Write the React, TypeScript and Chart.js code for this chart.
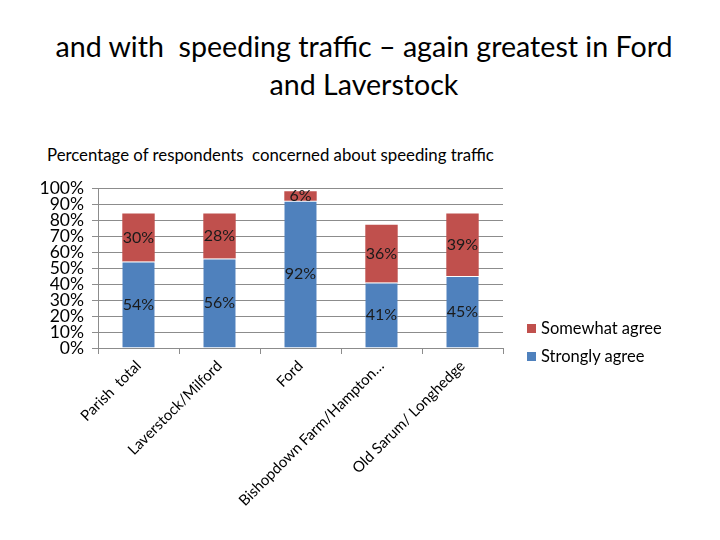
import React, { useEffect, useRef } from "react";
import { Chart, registerables } from "chart.js";

Chart.register(...registerables);

const categories = [
  "Parish  total",
  "Laverstock/Milford",
  "Ford",
  "Bishopdown Farm/Hampton…",
  "Old Sarum/ Longhedge",
];
const stronglyAgree = [54, 56, 92, 41, 45];
const somewhatAgree = [30, 28, 6, 36, 39];
const yTicks = [0, 10, 20, 30, 40, 50, 60, 70, 80, 90, 100];

const BLUE = "#4F81BD";
const RED = "#C0504D";
const FONT = "Lato, 'Open Sans', sans-serif";

// Writes each segment's percentage in the middle of its bar segment.
const segmentLabels = {
  id: "segmentLabels",
  afterDatasetsDraw(chart: any) {
    const ctx = chart.ctx;
    ctx.save();
    ctx.font = `16px ${FONT}`;
    ctx.fillStyle = "#1a1a1a";
    ctx.textAlign = "center";
    ctx.textBaseline = "middle";
    chart.data.datasets.forEach((ds: any, di: number) => {
      const meta = chart.getDatasetMeta(di);
      meta.data.forEach((bar: any, i: number) => {
        const { x, y, base } = bar.getProps(["x", "y", "base"], true);
        ctx.fillText(`${ds.data[i]}%`, x, (y + base) / 2);
      });
    });
    ctx.restore();
  },
};

export default function App() {
  const ref = useRef<HTMLCanvasElement | null>(null);

  useEffect(() => {
    if (!ref.current) return;
    const chart = new Chart(ref.current, {
      type: "bar",
      data: {
        labels: categories,
        datasets: [
          {
            label: "Strongly agree",
            data: stronglyAgree,
            backgroundColor: BLUE,
            borderColor: "#ffffff",
            borderWidth: { top: 1, left: 0, right: 0, bottom: 0 },
            borderSkipped: false,
            barPercentage: 0.4,
            categoryPercentage: 1,
          },
          {
            label: "Somewhat agree",
            data: somewhatAgree,
            backgroundColor: RED,
            borderWidth: 0,
            barPercentage: 0.4,
            categoryPercentage: 1,
          },
        ],
      },
      options: {
        responsive: false,
        animation: false,
        layout: { padding: { left: 30, right: 217, top: 188, bottom: 20 } },
        plugins: {
          legend: { display: false },
          tooltip: { enabled: false },
          title: { display: false },
        },
        scales: {
          x: {
            stacked: true,
            afterFit: (s: any) => {
              s.height = 172;
            },
            grid: {
              offset: true,
              drawOnChartArea: false,
              drawTicks: true,
              tickLength: 6,
              color: "#8c8c8c",
            },
            border: { color: "#8c8c8c" },
            ticks: {
              minRotation: 45,
              maxRotation: 45,
              autoSkip: false,
              color: "#000",
              font: { family: FONT, size: 15 },
              padding: 3,
            },
          },
          y: {
            stacked: true,
            min: 0,
            max: 100,
            afterFit: (s: any) => {
              s.width = 68;
            },
            afterBuildTicks: (s: any) => {
              s.ticks = yTicks.map((v) => ({ value: v }));
            },
            grid: { color: "#8c8c8c", tickLength: 6 },
            border: { color: "#8c8c8c" },
            ticks: {
              autoSkip: false,
              color: "#000",
              font: { family: FONT, size: 17.5 },
              padding: 8,
              callback: (v: any) => `${v}%`,
            },
          },
        },
      },
      plugins: [segmentLabels],
    });
    return () => chart.destroy();
  }, []);

  const legendItem = (color: string, text: string, top: number) => (
    <div
      style={{
        position: "absolute",
        left: 527,
        top,
        display: "flex",
        alignItems: "center",
        fontFamily: FONT,
        fontSize: 16.5,
        color: "#000",
        whiteSpace: "nowrap",
      }}
    >
      <span style={{ width: 9, height: 9, background: color, marginRight: 5, display: "inline-block" }} />
      {text}
    </div>
  );

  return (
    <div style={{ position: "absolute", left: 0, top: 0, width: 720, height: 540, background: "#fff" }}>
      <div
        style={{
          position: "absolute",
          left: 0,
          top: 27,
          width: 728,
          textAlign: "center",
          fontFamily: FONT,
          fontSize: 28.6,
          lineHeight: "38px",
          color: "#000",
        }}
      >
        and with&nbsp; speeding traffic – again greatest in Ford
        <br />
        and Laverstock
      </div>
      <div
        style={{
          position: "absolute",
          left: 47,
          top: 144,
          fontFamily: FONT,
          fontSize: 16.8,
          color: "#000",
          whiteSpace: "pre",
        }}
      >
        {"Percentage of respondents  concerned about speeding traffic"}
      </div>
      <canvas ref={ref} width={720} height={540} style={{ position: "absolute", left: 0, top: 0 }} />
      {legendItem(RED, "Somewhat agree", 318)}
      {legendItem(BLUE, "Strongly agree", 346)}
    </div>
  );
}
